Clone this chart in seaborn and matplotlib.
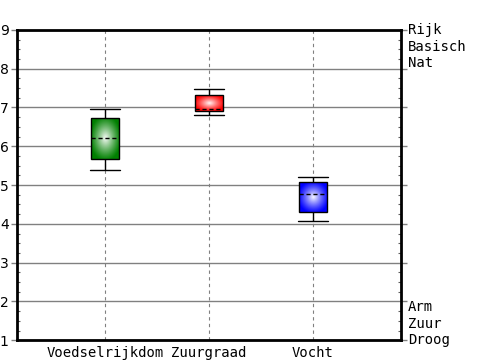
import numpy as np
import pandas as pd
import matplotlib
matplotlib.use("Agg")
import matplotlib.pyplot as plt
import matplotlib.transforms as mtransforms
import seaborn as sns

# ── data ────────────────────────────────────────────────────
categories = ["Voedselrijkdom", "Zuurgraad", "Vocht"]
whisker_low = [5.38, 6.81, 4.08]
q1 = [5.66, 6.91, 4.30]
median = [6.20, 6.96, 4.77]
q3 = [6.73, 7.32, 5.07]
whisker_high = [6.97, 7.47, 5.20]
box_colors = ["#008000", "#ff0000", "#0000ff"]

top_labels = ["Rijk", "Basisch", "Nat"]
bottom_labels = ["Arm", "Zuur", "Droog"]

# five values per category -> quartiles land exactly on q1 / q3
rows = []
for i, cat in enumerate(categories):
    for v in (whisker_low[i], q1[i], median[i], q3[i], whisker_high[i]):
        rows.append({"cat": cat, "value": v})
df = pd.DataFrame(rows)

# ── plot ────────────────────────────────────────────────────
sns.set_style("white")
plt.rcParams["font.family"] = ["DejaVu Sans"]
plt.rcParams["text.color"] = "black"
plt.rcParams["xtick.color"] = "black"
plt.rcParams["ytick.color"] = "black"

fig = plt.figure(figsize=(5, 3.6), dpi=100)
ax = fig.add_axes([0.034, 0.055, 0.768, 0.862])

sns.boxplot(data=df, x="cat", y="value", order=categories, width=0.27,
            whis=1.5, linecolor="black", linewidth=1.0, showfliers=False,
            medianprops=dict(linestyle=(0, (3, 2)), color="black", linewidth=1.0),
            capwidths=0.29, ax=ax)

# radial white glow inside each box
ny, nx = 100, 100
yy, xx = np.mgrid[-1:1:ny * 1j, -1:1:nx * 1j]
r = np.sqrt(xx ** 2 + yy ** 2)
glow = np.clip(1 - r / 1.1, 0, 1) ** 1.2
for patch, col in zip(list(ax.patches), box_colors):
    rgb = np.array(matplotlib.colors.to_rgb(col))
    img = np.ones((ny, nx, 4))
    img[..., :3] = rgb + (1 - rgb) * glow[..., None] * 0.97
    ext = patch.get_path().get_extents()
    im = ax.imshow(img, extent=[ext.x0, ext.x1, ext.y0, ext.y1],
                   aspect="auto", zorder=patch.get_zorder() + 0.01,
                   interpolation="bilinear")
    im.set_clip_path(patch)
    patch.set_facecolor("none")
    patch.set_zorder(patch.get_zorder() + 0.02)

for line in ax.lines:
    line.set_zorder(3)

ax.set_xlim(-0.846, 2.846)
ax.set_ylim(1, 9)
ax.set_xlabel("")
ax.set_ylabel("")

# grid
ax.set_axisbelow(True)
ax.yaxis.grid(True, color="#808080", linewidth=1.0, linestyle="-")
ax.xaxis.grid(True, color="#808080", linewidth=0.8, linestyle=(0, (3, 3)))
ax.set_yticks(range(1, 10))
ax.set_yticks(np.arange(1, 9.01, 0.25), minor=True)

for s in ax.spines.values():
    s.set_visible(True)
    s.set_color("black")
    s.set_linewidth(2)

ax.tick_params(axis="y", which="major", left=True, right=True, length=4,
               width=1, color="#808080", labelsize=10, pad=2,
               labelcolor="black")
ax.tick_params(axis="y", which="minor", left=True, right=True, length=2,
               width=0.8, direction="in", color="#606060")
ax.tick_params(axis="x", bottom=False, pad=1, labelcolor="black")
for lbl in ax.get_xticklabels():
    lbl.set_family("DejaVu Sans Mono")
    lbl.set_fontsize(10)

# right-hand descriptors
trans = mtransforms.blended_transform_factory(ax.transAxes, ax.transData)
for k, txt in enumerate(top_labels):
    ax.annotate(txt, xy=(1, 9), xycoords=trans, xytext=(5, -12 * k),
                textcoords="offset points", va="center", ha="left",
                family="DejaVu Sans Mono", fontsize=10, annotation_clip=False)
for k, txt in enumerate(reversed(bottom_labels)):
    ax.annotate(txt, xy=(1, 1), xycoords=trans, xytext=(5, 12 * k),
                textcoords="offset points", va="center", ha="left",
                family="DejaVu Sans Mono", fontsize=10, annotation_clip=False)

plt.savefig("out.png", dpi=100)
plt.close()
